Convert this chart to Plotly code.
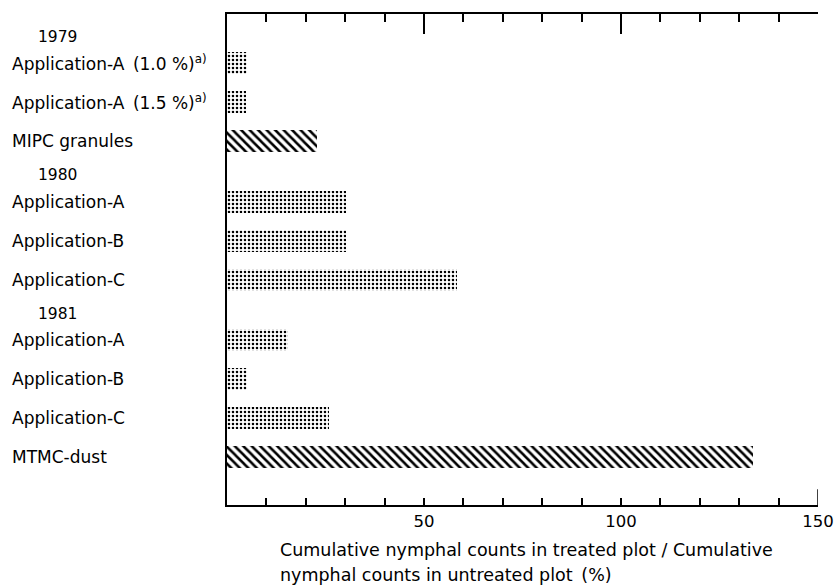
import plotly.graph_objects as go

# Survey years and the treatments tested in each
years = ["1979", "1980", "1981"]

labels_1979 = ["Application-A\u2002(1.0 %)<sup>a)</sup>", "Application-A\u2002(1.5 %)<sup>a)</sup>", "MIPC granules"]
ratio_1979 = [5.2, 4.8, 22.9]

labels_1980 = ["Application-A", "Application-B", "Application-C"]
ratio_1980 = [30.1, 30.1, 58.5]

labels_1981 = ["Application-A", "Application-B", "Application-C", "MTMC-dust"]
ratio_1981 = [15.4, 5.1, 25.9, 133.4]

# Conventional insecticides are drawn hatched, the test applications stippled
conventional = ["MIPC granules", "MTMC-dust"]

x_ticks = [50, 100, 150]

title_lines = ["Cumulative nymphal counts in treated plot / Cumulative",
               "nymphal counts in untreated plot\u2002(%)"]

groups = [(years[0], labels_1979, ratio_1979),
          (years[1], labels_1980, ratio_1980),
          (years[2], labels_1981, ratio_1981)]

# Row layout: one unit per bar, extra space before each year heading
GROUP_GAP = 1.55
HEAD_OFFSET = 0.68
rows_y, rows_x, rows_lab, heads = [], [], [], []
pos = 0.0
for gi, (yr, labs, vals) in enumerate(groups):
    if gi > 0:
        pos += GROUP_GAP - 1
    heads.append((yr, pos - HEAD_OFFSET))
    for lab, v in zip(labs, vals):
        rows_y.append(pos)
        rows_x.append(v)
        rows_lab.append(lab)
        pos += 1
last = rows_y[-1]

shapes_pat = ["\\" if l in conventional else "." for l in rows_lab]
sizes_pat = [6 if l in conventional else 4 for l in rows_lab]
solid_pat = [0.42 if l in conventional else 0.32 for l in rows_lab]

fig = go.Figure()
fig.add_trace(go.Bar(
    x=rows_x, y=rows_y, orientation="h", width=0.56,
    marker=dict(color="white", line=dict(width=0),
                pattern=dict(shape=shapes_pat, fgcolor="black", bgcolor="white",
                             size=sizes_pat, solidity=solid_pat, fillmode="replace")),
    hoverinfo="skip", showlegend=False,
))
# invisible trace so the top axis is drawn
fig.add_trace(go.Scatter(x=[0], y=[0], xaxis="x2", mode="markers",
                         marker=dict(opacity=0), hoverinfo="skip", showlegend=False))

FONT = "DejaVu Sans"
L, R, T, B = 227, 16, 14, 81
W, H = 834, 586
plot_w = W - L - R
plot_h = H - T - B


def px_x(px):
    return (px - L) / plot_w


def px_y(py):
    return (H - B - py) / plot_h


annotations = []
for lab, yv in zip(rows_lab, rows_y):
    annotations.append(dict(x=px_x(10), xref="paper", y=yv, yref="y",
                            text=lab, showarrow=False, xanchor="left", yanchor="middle",
                            font=dict(family=FONT, size=17, color="black")))
for yr, yv in heads:
    annotations.append(dict(x=px_x(36), xref="paper", y=yv, yref="y",
                            text=yr, showarrow=False, xanchor="left", yanchor="middle",
                            font=dict(family=FONT, size=15.5, color="black")))
for line, py in zip(title_lines, [550, 575]):
    annotations.append(dict(x=px_x(278), xref="paper", y=px_y(py), yref="paper",
                            text=line, showarrow=False, xanchor="left", yanchor="middle",
                            font=dict(family=FONT, size=17.5, color="black")))

axis_common = dict(range=[0, 150], showgrid=False, zeroline=False, automargin=False,
                   showline=True, linecolor="black", linewidth=1.5,
                   tickcolor="black", tickwidth=1.5)

fig.update_layout(
    width=W, height=H, autosize=False,
    margin=dict(l=L, r=R, t=T, b=B),
    paper_bgcolor="white", plot_bgcolor="white",
    bargap=0,
    xaxis=dict(**axis_common, side="bottom", ticks="inside", ticklen=7,
               tickvals=x_ticks, ticktext=[str(t) for t in x_ticks],
               tickfont=dict(family=FONT, size=16.5, color="black"),
               minor=dict(dtick=10, ticks="inside", ticklen=7,
                          tickcolor="black", tickwidth=1.5, showgrid=False)),
    xaxis2=dict(**axis_common, side="top", overlaying="x", anchor="y",
                ticks="inside", ticklen=20, tickvals=x_ticks, showticklabels=False,
                minor=dict(dtick=10, ticks="inside", ticklen=8,
                           tickcolor="black", tickwidth=1.5, showgrid=False)),
    yaxis=dict(range=[last + 1.23, -1.26], showgrid=False, zeroline=False, automargin=False,
               showline=True, linecolor="black", linewidth=1.5,
               showticklabels=False, ticks=""),
    annotations=annotations,
    shapes=[dict(type="line", xref="x", yref="paper", x0=150, x1=150, y0=0, y1=0.032,
                 line=dict(color="black", width=1.5))],
)

fig.write_html("out.html")
